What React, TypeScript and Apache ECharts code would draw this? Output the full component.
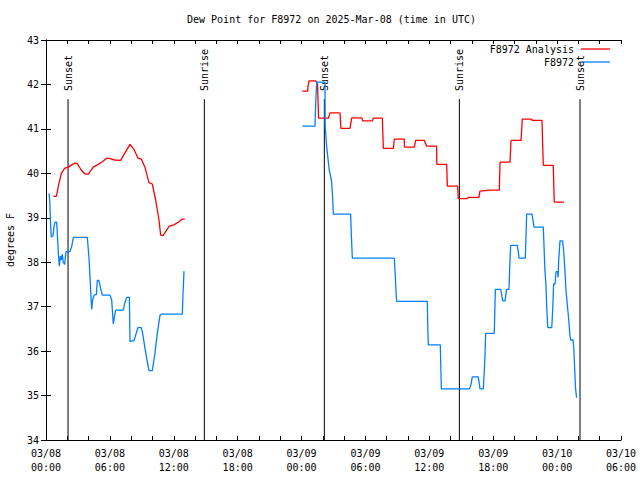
import React, { useEffect, useRef } from "react";
import * as echarts from "echarts";

// hours since 03/08 00:00 UTC, dew point in °F
const analysisSeg1: [number, number][] = [
  [0.69, 39.48], [0.97, 39.48], [1.22, 39.78], [1.44, 40.0], [1.75, 40.11], [2.16, 40.15],
  [2.69, 40.23], [2.94, 40.22], [3.32, 40.07], [3.69, 39.98], [3.97, 39.98], [4.44, 40.14],
  [4.82, 40.19], [5.29, 40.26], [5.7, 40.34], [6.01, 40.33], [6.45, 40.3], [7.01, 40.29],
  [7.39, 40.45], [7.89, 40.65], [8.26, 40.54], [8.64, 40.34], [8.95, 40.32], [9.3, 40.13],
  [9.67, 39.79], [9.98, 39.76], [10.3, 39.4], [10.61, 38.95], [10.77, 38.61], [10.99, 38.6],
  [11.58, 38.81], [12.02, 38.84], [12.49, 38.91], [12.8, 38.97], [13.03, 38.97],
];
const analysisSeg2: [number, number][] = [
  [24.07, 41.85], [24.57, 41.85], [24.6, 41.95], [24.7, 42.08], [25.33, 42.08], [25.5, 42.0],
  [25.6, 41.24], [26.52, 41.24], [26.67, 41.36], [27.61, 41.36], [27.7, 41.01], [28.55, 41.01],
  [28.71, 41.25], [29.65, 41.25], [29.74, 41.18], [30.65, 41.18], [30.74, 41.24], [31.59, 41.24],
  [31.68, 40.56], [32.62, 40.56], [32.71, 40.77], [33.65, 40.77], [33.66, 40.59], [34.59, 40.59],
  [34.72, 40.74], [35.53, 40.74], [35.75, 40.61], [36.69, 40.61], [36.7, 40.2], [37.63, 40.2],
  [37.69, 39.71], [38.66, 39.71], [38.72, 39.43], [39.55, 39.43], [39.65, 39.46], [40.66, 39.46],
  [40.75, 39.6], [41.7, 39.62], [42.57, 39.62], [42.64, 40.25], [43.58, 40.25], [43.67, 40.74],
  [44.61, 40.74], [44.73, 41.22], [45.61, 41.22], [45.65, 41.19], [46.58, 41.19], [46.64, 40.69],
  [46.7, 40.18], [47.64, 40.18], [47.73, 39.35], [48.65, 39.35],
];
const obsSeg1: [number, number][] = [
  [0.28, 39.55], [0.35, 39.4], [0.44, 38.8], [0.5, 38.57], [0.66, 38.59], [0.75, 38.8],
  [0.85, 38.9], [1.0, 38.9], [1.06, 38.65], [1.16, 38.2], [1.25, 37.91], [1.35, 38.14],
  [1.44, 38.05], [1.53, 38.18], [1.62, 38.0], [1.75, 37.95], [1.88, 38.24], [2.25, 38.24],
  [2.41, 38.35], [2.57, 38.56], [3.88, 38.56], [4.04, 38.09], [4.13, 37.67], [4.23, 37.19],
  [4.29, 36.94], [4.38, 37.15], [4.51, 37.26], [4.73, 37.27], [4.82, 37.6], [4.98, 37.58],
  [5.13, 37.41], [5.29, 37.26], [6.01, 37.26], [6.17, 37.15], [6.23, 36.92], [6.32, 36.61],
  [6.45, 36.81], [6.54, 36.92], [7.26, 36.92], [7.39, 37.07], [7.58, 37.21], [7.83, 37.21],
  [7.89, 36.21], [8.01, 36.23], [8.26, 36.23], [8.42, 36.36], [8.64, 36.53], [8.95, 36.53],
  [9.08, 36.4], [9.27, 36.1], [9.52, 35.76], [9.67, 35.56], [9.98, 35.56], [10.21, 35.91],
  [10.45, 36.4], [10.71, 36.81], [10.83, 36.83], [12.8, 36.83], [12.87, 37.3], [12.96, 37.8],
];
const obsSeg2: [number, number][] = [
  [24.07, 41.06], [25.26, 41.06], [25.33, 41.58], [25.42, 42.05], [26.2, 42.05], [26.22, 41.05],
  [26.36, 40.6], [26.6, 40.07], [26.8, 39.85], [26.9, 39.55], [26.98, 39.08], [28.61, 39.08],
  [28.68, 38.59], [28.77, 38.09], [32.71, 38.09], [32.8, 37.7], [32.87, 37.36], [32.93, 37.12],
  [35.81, 37.12], [35.85, 36.62], [35.9, 36.14], [37.03, 36.14], [37.08, 35.65], [37.13, 35.15],
  [39.75, 35.15], [39.85, 35.2], [39.93, 35.27], [40.03, 35.42], [40.59, 35.42], [40.68, 35.29],
  [40.76, 35.15], [41.07, 35.15], [41.15, 35.5], [41.23, 35.91], [41.29, 36.4], [42.1, 36.4],
  [42.15, 36.91], [42.2, 37.39], [42.7, 37.39], [42.8, 37.26], [42.89, 37.13], [43.11, 37.13],
  [43.26, 37.39], [43.48, 37.39], [43.55, 37.9], [43.64, 38.38], [44.26, 38.38], [44.35, 38.24],
  [44.43, 38.09], [45.01, 38.09], [45.08, 38.59], [45.14, 39.08], [45.64, 39.08], [45.75, 38.93],
  [45.83, 38.79], [46.7, 38.79], [46.78, 38.29], [46.86, 37.8], [46.95, 37.51], [47.02, 37.01],
  [47.12, 36.53], [47.5, 36.53], [47.6, 37.01], [47.67, 37.51], [47.8, 37.51], [47.91, 37.79],
  [48.05, 37.79], [48.1, 37.66], [48.14, 38.01], [48.27, 38.48], [48.52, 38.48], [48.62, 38.24],
  [48.74, 37.8], [48.83, 37.39], [48.93, 37.11], [49.02, 36.89], [49.12, 36.62], [49.2, 36.36],
  [49.28, 36.25], [49.5, 36.25], [49.58, 36.02], [49.65, 35.59], [49.73, 35.16], [49.83, 34.95],
];

const sunHours = [2.07, 14.87, 26.14, 38.82, 50.15];
const sunLabels = ["Sunset", "Sunrise", "Sunset", "Sunrise", "Sunset"];
const sunLineTop = 41.67;

const seriesNames = ["F8972 Analysis", "F8972"];
const seriesColors = ["#ff0000", "#0080ff"];

const X_MIN = 0;
const X_MAX = 54;
const Y_MIN = 34;
const Y_MAX = 43;

const FONT = "'DejaVu Sans Mono', 'Liberation Mono', monospace";

function fmtX(h: number): string {
  if (Math.round(h) % 6 !== 0) return "";
  const hr = Math.round(h);
  const day = 8 + Math.floor(hr / 24);
  const hh = hr % 24;
  return `03/${String(day).padStart(2, "0")}\n${String(hh).padStart(2, "0")}:00`;
}

const gap: any = [18, "-"];

export default function App() {
  const ref = useRef<HTMLDivElement>(null);
  useEffect(() => {
    if (!ref.current) return;
    const chart = echarts.init(ref.current, undefined, { renderer: "svg" });
    const sunSeries = sunHours.map((h, i) => ({
      type: "line",
      silent: true,
      data: [
        [h, Y_MIN],
        {
          value: [h, sunLineTop],
          label: {
            show: true,
            formatter: sunLabels[i],
            position: "top",
            distance: 7,
            rotate: 90,
            align: "left",
            verticalAlign: "middle",
            color: "#000",
            fontFamily: FONT,
            fontSize: 10,
            offset: [1, 0],
          },
        },
      ],
      showSymbol: true,
      symbol: "circle",
      symbolSize: 0,
      itemStyle: { color: "#000" },
      lineStyle: { color: "#000", width: 1 },
      z: 1,
    }));
    const option: any = {
      animation: false,
      backgroundColor: "#fff",
      title: {
        text: "Dew Point for F8972 on 2025-Mar-08 (time in UTC)",
        left: 182,
        top: 9,
        textStyle: { fontFamily: FONT, fontSize: 10, fontWeight: "normal", color: "#000" },
      },
      grid: {
        left: 46,
        right: 19,
        top: 40,
        bottom: 40,
        containLabel: false,
        outerBoundsMode: "none",
      },
      xAxis: [
        {
          type: "value",
          min: X_MIN,
          max: X_MAX,
          interval: 2,
          position: "bottom",
          axisLine: { show: true, lineStyle: { color: "#000", width: 1 } },
          axisTick: { show: true, inside: true, length: 4, lineStyle: { color: "#000" } },
          axisLabel: {
            formatter: fmtX,
            margin: 6,
            color: "#000",
            fontFamily: FONT,
            fontSize: 10,
            lineHeight: 14,
            showMinLabel: true,
            showMaxLabel: true,
            hideOverlap: false,
          },
          splitLine: { show: false },
        },
        {
          type: "value",
          min: X_MIN,
          max: X_MAX,
          interval: 2,
          position: "top",
          axisLine: { show: true, lineStyle: { color: "#000", width: 1 } },
          axisTick: { show: true, inside: true, length: 4, lineStyle: { color: "#000" } },
          axisLabel: { show: false },
          splitLine: { show: false },
        },
      ],
      yAxis: [
        {
          type: "value",
          min: Y_MIN,
          max: Y_MAX,
          interval: 1,
          position: "left",
          name: "degrees F",
          nameLocation: "middle",
          nameGap: 31,
          nameRotate: 90,
          nameTextStyle: { fontFamily: FONT, fontSize: 10, color: "#000" },
          axisLine: { show: true, lineStyle: { color: "#000", width: 1 } },
          axisTick: { show: true, inside: true, length: 5, lineStyle: { color: "#000" } },
          axisLabel: { margin: 7, color: "#000", fontFamily: FONT, fontSize: 10 },
          splitLine: { show: false },
        },
        {
          type: "value",
          min: Y_MIN,
          max: Y_MAX,
          interval: 1,
          position: "right",
          axisLine: { show: true, lineStyle: { color: "#000", width: 1 } },
          axisTick: { show: true, inside: true, length: 5, lineStyle: { color: "#000" } },
          axisLabel: { show: false },
          splitLine: { show: false },
        },
      ],
      graphic: [
        {
          type: "text",
          x: 574,
          y: 49,
          style: {
            text: seriesNames[0],
            align: "right",
            verticalAlign: "middle",
            fill: "#000",
            font: `10px ${FONT}`,
          },
        },
        {
          type: "line",
          shape: { x1: 581, y1: 49, x2: 610, y2: 49 },
          style: { stroke: seriesColors[0], lineWidth: 1.3 },
        },
        {
          type: "text",
          x: 574,
          y: 62,
          style: {
            text: seriesNames[1],
            align: "right",
            verticalAlign: "middle",
            fill: "#000",
            font: `10px ${FONT}`,
          },
        },
        {
          type: "line",
          shape: { x1: 581, y1: 62, x2: 610, y2: 62 },
          style: { stroke: seriesColors[1], lineWidth: 1.3 },
        },
      ],
      series: [
        ...sunSeries,
        {
          name: seriesNames[0],
          type: "line",
          data: [...analysisSeg1, gap, ...analysisSeg2],
          showSymbol: false,
          connectNulls: false,
          lineStyle: { color: seriesColors[0], width: 1.3 },
          itemStyle: { color: seriesColors[0] },
          z: 3,
        },
        {
          name: seriesNames[1],
          type: "line",
          data: [...obsSeg1, gap, ...obsSeg2],
          showSymbol: false,
          connectNulls: false,
          lineStyle: { color: seriesColors[1], width: 1.3 },
          itemStyle: { color: seriesColors[1] },
          z: 4,
        },
      ],
    };
    chart.setOption(option);
    return () => chart.dispose();
  }, []);
  return (
    <div
      ref={ref}
      style={{ position: "fixed", left: 0, top: 0, width: 640, height: 480, background: "#fff" }}
    />
  );
}
